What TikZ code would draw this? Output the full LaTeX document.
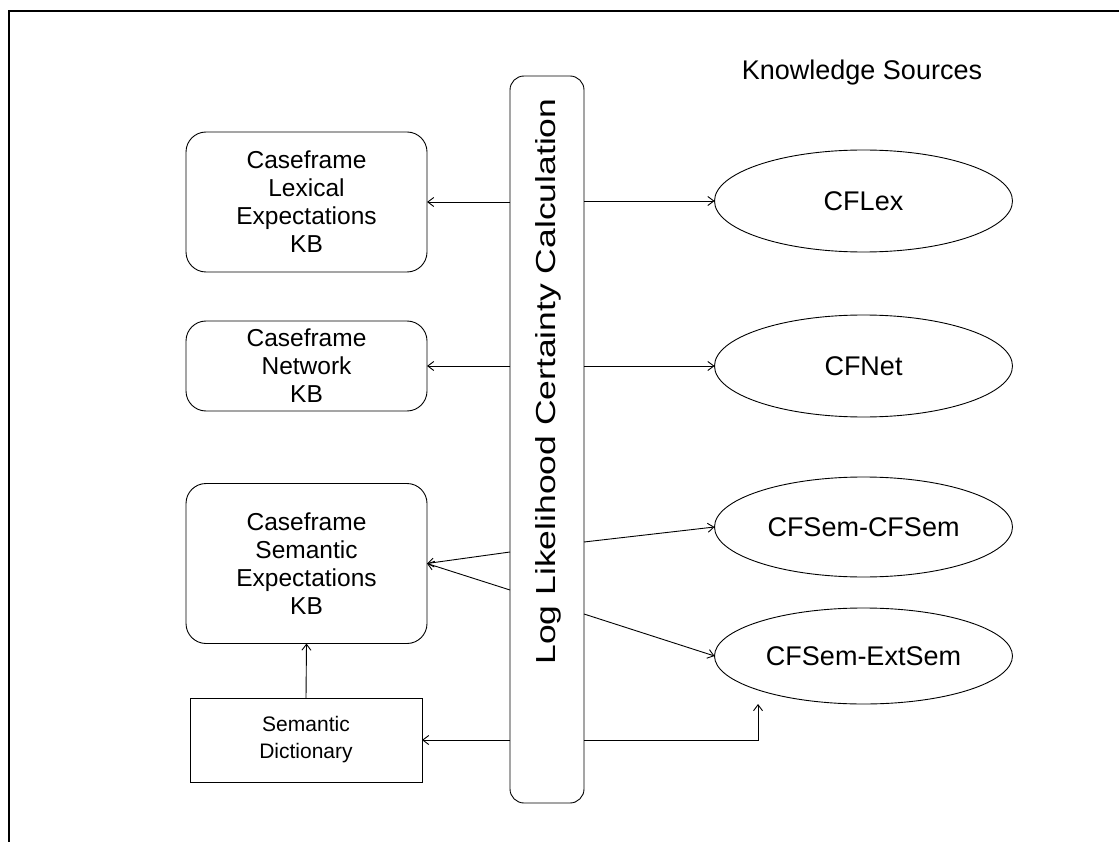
\documentclass[tikz,border=0pt]{standalone}
\usepackage{fontspec}
\usepackage{graphicx}
\setmainfont{Liberation Sans}
\usetikzlibrary{arrows.meta,shapes.geometric}
\begin{document}
\begin{tikzpicture}[x=1pt,y=-1pt,
  every node/.style={inner sep=0pt,outer sep=0pt},
  kbbox/.style={draw,rounded corners=20pt,line width=0.9pt,align=center,
    minimum width=241pt,font=\fontsize{24.5}{28}\selectfont},
  srcell/.style={draw,ellipse,line width=0.9pt,minimum width=298pt,
    font=\fontsize{27}{31}\selectfont},
  link/.style={line width=0.9pt,-{Straight Barb[length=6pt,width=9pt]}}]
\useasboundingbox (0,0) rectangle (1119,842);
% outer frame (top and left edges)
\draw[line width=2pt] (9,842) -- (9,11) -- (1119,11);

% title of the right-hand column
\node (ks) at (862,73) {\fontsize{27}{31}\selectfont Knowledge Sources};

% central calculation bar
\node[draw,rounded corners=14pt,line width=0.9pt,minimum width=74pt,
  minimum height=727pt] (bar) at (547,439.5) {};
\node[rotate=90,font=\fontsize{27.5}{31}\selectfont] (bartext) at (548,381.5)
  {\scalebox{1.29}[1]{Log Likelihood Certainty Calculation}};

% knowledge bases
\node[kbbox,minimum height=140pt] (lex) at (306.5,202)
  {Caseframe\\Lexical\\Expectations\\KB};
\node[kbbox,minimum height=90pt] (net) at (306.5,366)
  {Caseframe\\Network\\KB};
\node[kbbox,minimum height=160pt] (sem) at (306.5,563.5)
  {Caseframe\\Semantic\\Expectations\\KB};
\node[draw,line width=0.9pt,minimum width=232pt,minimum height=84pt,align=center,
  font=\fontsize{21}{27}\selectfont] (dict) at (306,740)
  {Semantic\\Dictionary};

% knowledge sources
\node[srcell,minimum height=102pt] (cflex) at (863.5,201) {CFLex};
\node[srcell,minimum height=102pt] (cfnet) at (863.5,366) {CFNet};
\node[srcell,minimum height=100pt] (cfss) at (863.5,527) {CFSem-CFSem};
\node[srcell,minimum height=96pt] (cfse) at (863.5,656) {CFSem-ExtSem};

% attachment points on the bar
\coordinate (bl1) at (bar.west |- 0,552);
\coordinate (bl2) at (bar.west |- 0,590);
\coordinate (br1) at (bar.east |- 0,542);
\coordinate (br2) at (bar.east |- 0,614);
\coordinate (corner) at (758,740);

% connectors
\draw[link] (bar.west |- lex.east) -- (lex.east);
\draw[link] (bar.east |- cflex.west) -- (cflex.west);
\draw[link] (bar.west |- net.east) -- (net.east);
\draw[link] (bar.east |- cfnet.west) -- (cfnet.west);
\draw[link] (bl1) -- (sem.east);
\draw[link] (bl2) -- (sem.east);
\draw[link] (br1) -- (cfss.west);
\draw[link] (br2) -- (cfse.west);
\draw[link] (bar.west |- dict.east) -- (dict.east);
\draw[link] (bar.east |- dict.east) -- (corner) -- (corner |- cfse.south);
\draw[link] (dict.north) -- (sem.south);
\end{tikzpicture}
\end{document}
